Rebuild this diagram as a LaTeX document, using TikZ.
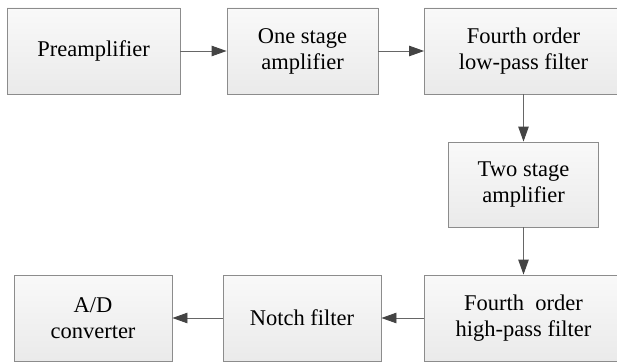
\documentclass[tikz,border=0pt]{standalone}
\usepackage{fontspec}
\setmainfont{Liberation Serif}
\newfontfamily\blockfont{Liberation Serif}
\usetikzlibrary{arrows.meta}
\definecolor{boxline}{HTML}{8C8C8C}
\definecolor{boxtop}{HTML}{F9F9F9}
\definecolor{boxbot}{HTML}{EAEAEA}
\definecolor{wire}{HTML}{666666}
\definecolor{tip}{HTML}{444444}
\tikzset{
  block/.style={draw=boxline, line width=0.9pt, top color=boxtop, bottom color=boxbot,
    align=center, inner sep=0pt, text=black,
    font=\blockfont\fontsize{22.5}{26}\selectfont},
  flow/.style={draw=wire, line width=0.9pt,
    -{Triangle[length=15pt,width=10.5pt,fill=tip,color=tip]}}
}
\begin{document}
\begin{tikzpicture}[x=1pt,y=-1pt]
\useasboundingbox (0,0) rectangle (617,361);
\fill[white] (0,0) rectangle (617,361);
\clip (0,0) rectangle (617,361);
% top row
\node[block, minimum width=173pt, minimum height=86pt] (pre) at (93.5,51) {Preamplifier};
\node[block, minimum width=151pt, minimum height=86pt] (one) at (302.5,51) {One stage\\amplifier};
\node[block, minimum width=198pt, minimum height=86pt] (lpf) at (523.5,51) {Fourth order\\low-pass filter};
% middle
\node[block, minimum width=150pt, minimum height=85pt] (two) at (523.5,184.5) {Two stage\\amplifier};
% bottom row
\node[block, minimum width=198pt, minimum height=86pt] (hpf) at (523.5,318) {Fourth\ \ order\\high-pass filter};
\node[block, minimum width=158pt, minimum height=86pt] (notch) at (302,318) {Notch filter};
\node[block, minimum width=158pt, minimum height=86pt] (adc) at (93,318) {A/D\\converter};
% signal path
\draw[flow] (pre) -- (one);
\draw[flow] (one) -- (lpf);
\draw[flow] (lpf) -- (two);
\draw[flow] (two) -- (hpf);
\draw[flow] (hpf) -- (notch);
\draw[flow] (notch) -- (adc);
\end{tikzpicture}
\end{document}
